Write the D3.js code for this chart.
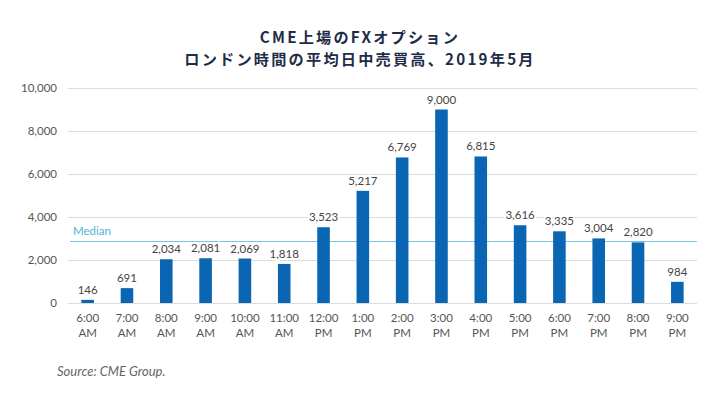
<!DOCTYPE html>
<html><head><meta charset="utf-8">
<script src="https://cdn.jsdelivr.net/npm/d3@7"></script>
<style>
body{margin:0;background:#fff;}
svg{display:block;}
</style></head>
<body>
<svg id="chart" width="720" height="400"></svg>
<script>
const titleLines = ["CME上場のFXオプション", "ロンドン時間の平均日中売買高、2019年5月"];
const hours = ["6:00", "7:00", "8:00", "9:00", "10:00", "11:00", "12:00", "1:00", "2:00", "3:00", "4:00", "5:00", "6:00", "7:00", "8:00", "9:00"];
const periods = ["AM", "AM", "AM", "AM", "AM", "AM", "PM", "PM", "PM", "PM", "PM", "PM", "PM", "PM", "PM", "PM"];
const volumes = [146, 691, 2034, 2081, 2069, 1818, 3523, 5217, 6769, 9000, 6815, 3616, 3335, 3004, 2820, 984];
const yTicks = [0, 2000, 4000, 6000, 8000, 10000];
const medianValue = 2880;
const medianLabel = "Median";
const sourceText = "Source: CME Group.";

const svg = d3.select("#chart");
const fontMain = "Lato, 'Noto Sans', sans-serif";
const fontTitle = "'Noto Sans CJK JP', 'Noto Sans', sans-serif";

const x = d3.scaleBand().domain(d3.range(volumes.length)).range([68, 697]).paddingInner(0.68).paddingOuter(0.34);
const y = d3.scaleLinear().domain([0, 10000]).range([303, 88]);

// title
svg.append("g").selectAll("text").data(titleLines).join("text")
  .attr("x", 360).attr("y", (d, i) => 42.5 + i * 22)
  .attr("text-anchor", "middle")
  .attr("font-family", fontTitle).attr("font-weight", 700).attr("font-size", 15.2)
  .attr("letter-spacing", 2.2)
  .attr("fill", "#1e2c47").text(d => d);

// y axis
const yAxis = svg.append("g").attr("transform", "translate(68,0)")
  .call(d3.axisLeft(y).tickValues(yTicks).tickSize(-629).tickFormat(d3.format(",")).tickPadding(11));
yAxis.select(".domain").remove();
yAxis.selectAll(".tick line").attr("stroke", "#dcdcdc").attr("stroke-width", 1);
yAxis.selectAll(".tick text").attr("font-family", fontMain).attr("font-size", 11.5).attr("fill", "#555");

// x axis
const xAxis = svg.append("g").attr("transform", "translate(0,303)")
  .call(d3.axisBottom(x).tickSize(0).tickFormat(""));
xAxis.select(".domain").remove();
xAxis.selectAll(".tick text").remove();
xAxis.selectAll(".tick").each(function(d) {
  const t = d3.select(this).append("text")
    .attr("text-anchor", "middle")
    .attr("font-family", fontMain).attr("font-size", 11.5).attr("fill", "#555");
  t.append("tspan").attr("x", 0).attr("y", 19).text(hours[d]);
  t.append("tspan").attr("x", 0).attr("y", 34).text(periods[d]);
});

// median line
svg.append("line")
  .attr("x1", 70).attr("x2", 697)
  .attr("y1", Math.round(y(medianValue)) + 0.5).attr("y2", Math.round(y(medianValue)) + 0.5)
  .attr("stroke", "#7cc6e3").attr("stroke-width", 1);
svg.append("text")
  .attr("x", 73).attr("y", y(medianValue) - 6)
  .attr("font-family", fontMain).attr("font-size", 11.5).attr("fill", "#4fb0d8")
  .text(medianLabel);

// bars
svg.append("g").selectAll("rect").data(volumes).join("rect")
  .attr("x", (d, i) => x(i)).attr("width", x.bandwidth())
  .attr("y", d => y(d)).attr("height", d => y(0) - y(d))
  .attr("fill", "#0a66b2");

// value labels
svg.append("g").selectAll("text").data(volumes).join("text")
  .attr("x", (d, i) => x(i) + x.bandwidth() / 2)
  .attr("y", d => y(d) - 6)
  .attr("text-anchor", "middle")
  .attr("font-family", fontMain).attr("font-size", 11.5).attr("fill", "#444")
  .attr("stroke", "#fff").attr("stroke-width", 4).attr("paint-order", "stroke")
  .text(d => d3.format(",")(d));

// source
svg.append("text")
  .attr("x", 57).attr("y", 376)
  .attr("font-family", fontMain).attr("font-style", "italic").attr("font-size", 13)
  .attr("fill", "#666").text(sourceText);
</script>
</body></html>
